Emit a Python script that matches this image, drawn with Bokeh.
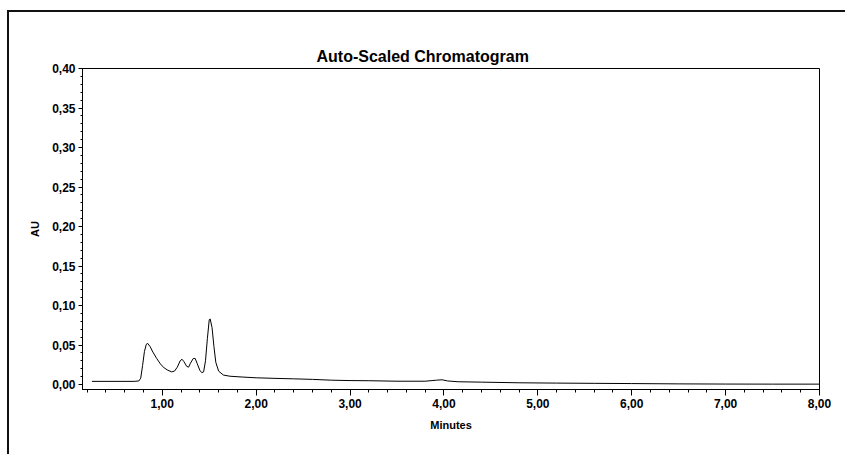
from bokeh.plotting import figure
from bokeh.models import FixedTicker, Range1d
from bokeh.embed import file_html
from bokeh.resources import INLINE

# Chromatogram trace (minutes, AU)
time_min = [0.25, 0.40, 0.55, 0.70, 0.75, 0.77, 0.79, 0.81, 0.83, 0.845, 0.87, 0.90,
            0.94, 0.98, 1.02, 1.06, 1.10, 1.13, 1.16, 1.19, 1.21, 1.23, 1.26, 1.28,
            1.30, 1.33, 1.35, 1.37, 1.40, 1.42, 1.44, 1.46, 1.48, 1.50, 1.51, 1.53,
            1.55, 1.57, 1.60, 1.65, 1.72, 1.85, 2.00, 2.20, 2.40, 2.60, 2.80, 3.00,
            3.20, 3.50, 3.80, 3.92, 3.98, 4.04, 4.15, 4.40, 4.80, 5.20, 5.60, 6.00,
            6.50, 7.00, 7.50, 8.00]
au = [0.004, 0.004, 0.004, 0.004, 0.0045, 0.008, 0.024, 0.042, 0.051, 0.052, 0.048, 0.041,
      0.033, 0.026, 0.021, 0.018, 0.016, 0.017, 0.022, 0.030, 0.032, 0.029, 0.023, 0.022,
      0.027, 0.033, 0.033, 0.027, 0.018, 0.015, 0.016, 0.030, 0.058, 0.082, 0.083, 0.072,
      0.048, 0.028, 0.017, 0.012, 0.0105, 0.0095, 0.0085, 0.0078, 0.0072, 0.0065, 0.0055, 0.005,
      0.0048, 0.0042, 0.0042, 0.0055, 0.006, 0.0045, 0.0035, 0.003, 0.0022, 0.0018, 0.0015, 0.0012,
      0.0008, 0.0006, 0.0005, 0.0005]

x_ticks = [1, 2, 3, 4, 5, 6, 7, 8]
x_tick_labels = ["1,00", "2,00", "3,00", "4,00", "5,00", "6,00", "7,00", "8,00"]
y_ticks = [0.0, 0.05, 0.10, 0.15, 0.20, 0.25, 0.30, 0.35, 0.40]
y_tick_labels = ["0,00", "0,05", "0,10", "0,15", "0,20", "0,25", "0,30", "0,35", "0,40"]

FONT = "Liberation Sans"

p = figure(width=838, height=444, output_backend="svg", toolbar_location=None,
           x_range=Range1d(0.15, 8.0), y_range=Range1d(-0.0063, 0.40),
           title="Auto-Scaled Chromatogram",
           min_border_left=73, min_border_right=28, min_border_top=56, min_border_bottom=67,
           background_fill_color="white", border_fill_color="white")
p.styles = {"border-top": "2px solid #111", "border-left": "2px solid #111",
            "margin-left": "7px", "margin-top": "10px"}

p.line(time_min, au, line_color="black", line_width=1)

p.title.align = "left"
p.title.offset = 234
p.title.standoff = 8
p.title.text_font = FONT
p.title.text_font_size = "16px"
p.title.text_font_style = "bold"
p.title.text_color = "black"

p.grid.visible = False
p.outline_line_color = "black"
p.outline_line_width = 1

p.xaxis.ticker = FixedTicker(ticks=x_ticks,
                             minor_ticks=[round(0.2 * i, 1) for i in range(1, 41)])
p.xaxis.major_label_overrides = {t: l for t, l in zip(x_ticks, x_tick_labels)}
p.yaxis.ticker = FixedTicker(ticks=y_ticks,
                             minor_ticks=[round(0.01 * i, 2) for i in range(0, 41)])
p.yaxis.major_label_overrides = {t: l for t, l in zip(y_ticks, y_tick_labels)}

p.xaxis.axis_label = "Minutes"
p.yaxis.axis_label = "AU"
for ax in (p.xaxis, p.yaxis):
    ax.axis_line_color = "black"
    ax.major_tick_line_color = "black"
    ax.minor_tick_line_color = "black"
    ax.major_label_text_font = FONT
    ax.major_label_text_font_size = "12px"
    ax.major_label_text_font_style = "bold"
    ax.major_label_text_color = "black"
    ax.axis_label_text_font = FONT
    ax.axis_label_text_font_size = "11px"
    ax.axis_label_text_font_style = "bold"
    ax.axis_label_text_color = "black"

p.xaxis.major_tick_out = 6
p.xaxis.major_tick_in = 0
p.xaxis.minor_tick_out = 3
p.xaxis.minor_tick_in = 0
p.xaxis.major_label_standoff = 3
p.xaxis.axis_label_standoff = 8

p.yaxis.major_tick_out = 4
p.yaxis.major_tick_in = 0
p.yaxis.minor_tick_out = 2
p.yaxis.minor_tick_in = 0
p.yaxis.major_label_standoff = 3
p.yaxis.axis_label_standoff = 8

open("out.html", "w").write(file_html(p, INLINE))
